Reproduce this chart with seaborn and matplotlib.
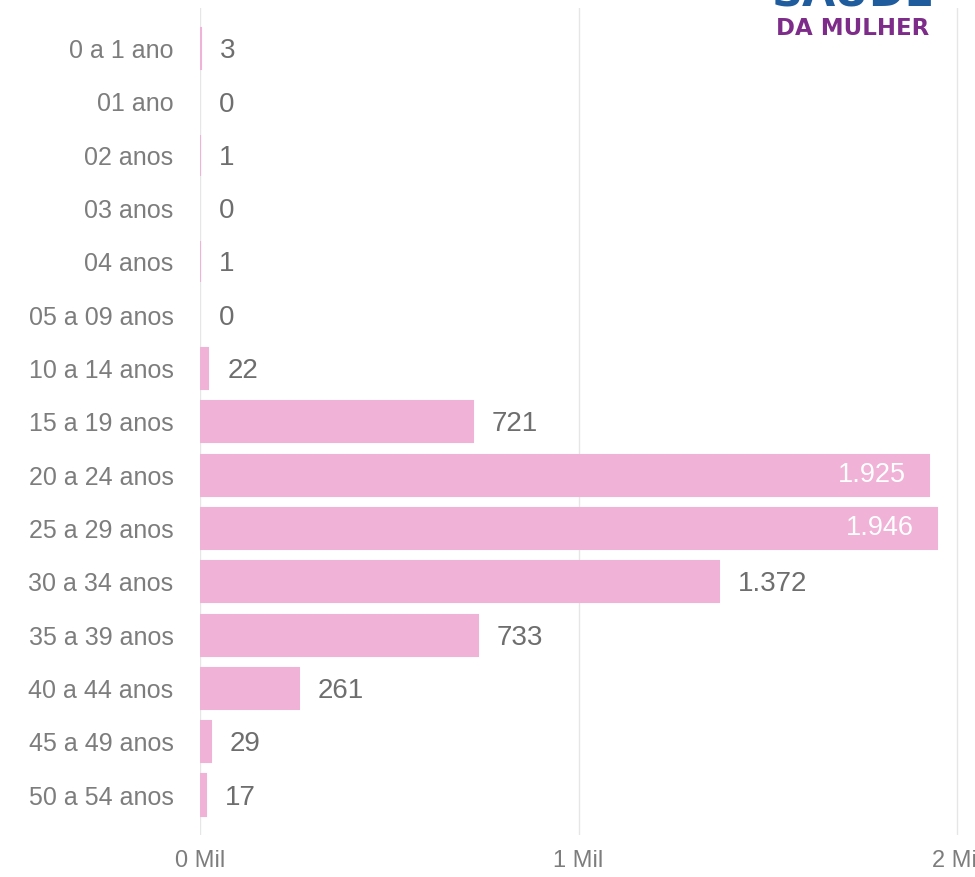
import matplotlib.pyplot as plt
import pandas as pd
import seaborn as sns

#------Data------

faixas = [
    "0 a 1 ano", "01 ano", "02 anos", "03 anos", "04 anos", "05 a 09 anos",
    "10 a 14 anos", "15 a 19 anos", "20 a 24 anos", "25 a 29 anos",
    "30 a 34 anos", "35 a 39 anos", "40 a 44 anos", "45 a 49 anos", "50 a 54 anos",
]
casos = [3, 0, 1, 0, 1, 0, 22, 721, 1925, 1946, 1372, 733, 261, 29, 17]
ticks = [0, 1000, 2000]
tick_labels = ["0 Mil", "1 Mil", "2 Mil"]

BAR_COLOR = "#F0B2D6"
TEXT_COLOR = "#7d7d7d"

#------Plot------

sns.set_style("white")
plt.rcParams["font.family"] = ["Liberation Sans", "DejaVu Sans"]

df = pd.DataFrame({"faixa": faixas, "casos": casos})

fig = plt.figure(figsize=(9.75, 8.77), dpi=100)
ax = fig.add_axes([200 / 975, (877 - 835) / 877, 775 / 975, (835 - 8) / 877])

sns.barplot(data=df, y="faixa", x="casos", color=BAR_COLOR, width=0.77,
            saturation=1, ax=ax)

#tiny bars still show as a thin sliver
for patch, v in zip(ax.patches, casos):
    if v > 0:
        patch.set_edgecolor(BAR_COLOR)
        patch.set_linewidth(1.5)
    else:
        patch.set_visible(False)

ax.set_xlim(0, 2047)
ax.set_ylim(14.75, -0.76)
ax.set_xticks(ticks)
ax.set_xticklabels(tick_labels, fontsize=17, color=TEXT_COLOR)
ax.tick_params(axis="x", length=0, pad=11)
ax.tick_params(axis="y", length=0, pad=19, labelsize=18, labelcolor=TEXT_COLOR)
ax.set_xlabel("")
ax.set_ylabel("")
for s in ax.spines.values():
    s.set_visible(False)
ax.grid(axis="x", color="#e6e6e6", linewidth=1)
ax.set_axisbelow(True)

#value labels
for i, v in enumerate(casos):
    txt = f"{v:,}".replace(",", ".")
    if v > 1800:
        ax.text(v - 60, i, txt, ha="right", va="center", fontsize=19.5, color="white")
    else:
        ax.text(v + 50, i + 0.05, txt, ha="left", va="center", fontsize=20, color="#6e6e6e")

#logo
fig.text(853 / 975, 1 - 5 / 877, "SAÚDE", ha="center", va="baseline", fontsize=31,
         fontweight="bold", color="#1F5C9E", family="DejaVu Sans")
fig.text(853 / 975, 1 - 35 / 877, "DA MULHER", ha="center", va="baseline", fontsize=16.5,
         fontweight="bold", color="#7E2C8A", family="DejaVu Sans")

fig.savefig("out.png", dpi=100, facecolor="white")
